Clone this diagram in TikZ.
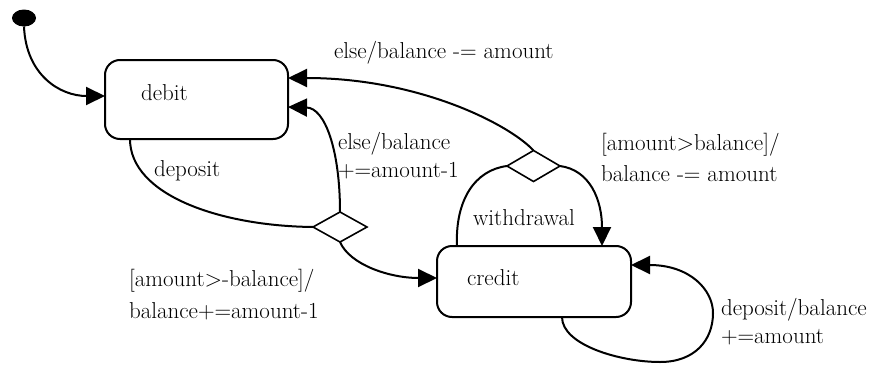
\documentclass[tikz,border=0pt]{standalone}
\usetikzlibrary{arrows.meta,shapes.geometric,calc}
\begin{document}
\begin{tikzpicture}[x=1pt,y=-1pt,
  line width=2pt,
  >={Triangle[length=19pt,width=18pt]},
  state/.style={draw, rounded corners=15pt, inner sep=0pt, outer sep=0pt},
  choice/.style={draw, diamond, inner sep=0pt, outer sep=0pt, line width=1.6pt},
  lbl/.style={anchor=base west, inner sep=0pt, font=\fontsize{23}{28}\selectfont},
  edge/.style={->}]
\useasboundingbox (0,0) rectangle (880,364);
% nodes
\node[ellipse, fill, minimum width=24pt, minimum height=17pt, inner sep=0pt, outer sep=0pt] (init) at (24,18) {};
\node[state, minimum width=183pt, minimum height=79pt] (debit) at (196.5,99.5) {};
\node[state, minimum width=194pt, minimum height=71pt] (credit) at (534,281.5) {};
\node[choice, minimum width=53pt, minimum height=31pt] (d1) at (533.5,166) {};
\node[choice, minimum width=54pt, minimum height=30pt] (d2) at (340,227) {};
% texts
\node[lbl] (tdebit) at (140,100) {debit};
\node[lbl] (tcredit) at (466,285) {credit};
\node[lbl] (l1) at (333,58) {else/balance -= amount};
\node[lbl] (l2) at (153,176) {deposit};
\node[lbl] (l3a) at (337,149) {else/balance};
\node[lbl] (l3b) at (337,177) {+=amount-1};
\node[lbl] (l4a) at (128,286) {[amount>-balance]/};
\node[lbl] (l4b) at (128,318) {balance+=amount-1};
\node[lbl] (l5a) at (600,150) {[amount>balance]/};
\node[lbl] (l5b) at (600,181) {balance -= amount};
\node[lbl] (l6) at (472,225) {withdrawal};
\node[lbl] (l7a) at (720,315) {deposit/balance};
\node[lbl] (l7b) at (720,343) {+=amount};
% connectors
\draw[edge] (init.south) .. controls (26,75) and (60,96) .. ($(debit.north west)+(0,36)$);
\draw[edge] (d1.north) .. controls (510,125) and (420,78) .. ($(debit.north east)+(0,18)$);
\draw[edge] (d2.north) .. controls (340,150) and (325,108) .. ($(debit.north east)+(0,47)$);
\draw (debit.south west) ++(25,0) .. controls (130,195) and (220,226) .. (d2.west);
\draw[edge] (d2.south) .. controls (350,265) and (390,278) .. ($(credit.north west)+(0,32)$);
\draw ($(credit.north west)+(20,0)$) .. controls (455,200) and (475,170) .. (d1.west);
\draw[edge] (d1.east) .. controls (590,170) and (602,200) .. ($(credit.north west)+(165,0)$);
\draw[edge] ($(credit.south west)+(125,0)$) .. controls (562,345) and (620,362) .. (660,362)
   .. controls (695,362) and (713,340) .. (713,313)
   .. controls (713,290) and (690,265) .. ($(credit.north east)+(0,19)$);
\end{tikzpicture}
\end{document}
